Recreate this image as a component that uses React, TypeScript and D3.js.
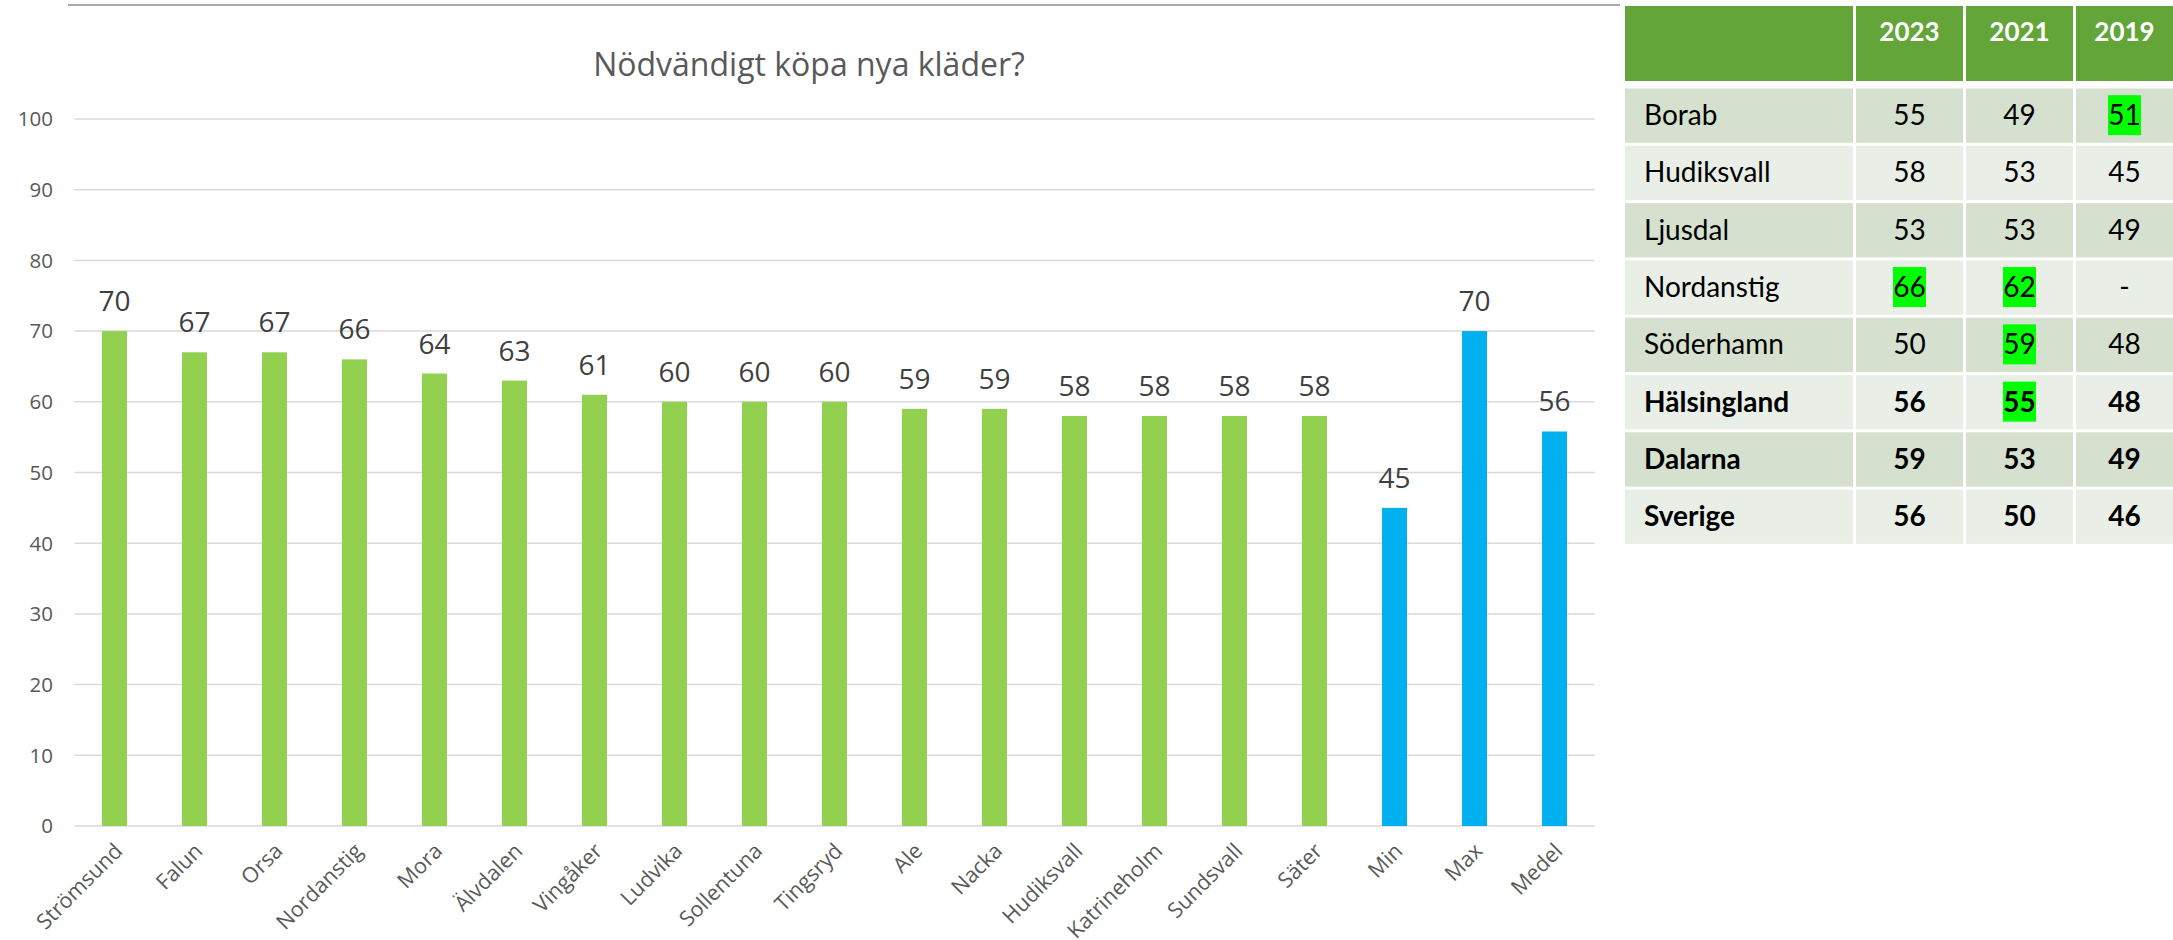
import React from "react";
import * as d3 from "d3";

const categories = ["Strömsund","Falun","Orsa","Nordanstig","Mora","Älvdalen","Vingåker","Ludvika","Sollentuna","Tingsryd","Ale","Nacka","Hudiksvall","Katrineholm","Sundsvall","Säter","Min","Max","Medel"];
const values = [70,67,67,66,64,63,61,60,60,60,59,59,58,58,58,58,45,70,55.8];
const summaryCats = ["Min","Max","Medel"];
const yTicks = [0,10,20,30,40,50,60,70,80,90,100];
const title = "Nödvändigt köpa nya kläder?";

const tableYears = ["2023","2021","2019"];
const tableRows = ["Borab","Hudiksvall","Ljusdal","Nordanstig","Söderhamn","Hälsingland","Dalarna","Sverige"];
const col2023 = ["55","58","53","66","50","56","59","56"];
const col2021 = ["49","53","53","62","59","55","53","50"];
const col2019 = ["51","45","49","-","48","48","49","46"];
const boldRows = ["Hälsingland","Dalarna","Sverige"];
const highlights = [[0,2],[3,0],[3,1],[4,1],[5,1]];

const W = 2173, H = 940;
const FONT = "'Open Sans', sans-serif";
const TFONT = "Lato, 'Open Sans', sans-serif";

export default function App() {
  const x = d3.scaleBand<string>().domain(categories).range([74.5, 1594.5]).paddingInner(0.6875).paddingOuter(0.34375);
  const y = d3.scaleLinear().domain([0, 100]).range([826, 119]);

  const tableCols = [col2023, col2021, col2019];
  const colEdges = [1625, 1853, 1963, 2073, 2173];
  const gap = 3;
  const rowTop = (i: number) => 88.5 + i * 57.3;
  const rowH = 54.3;

  return (
    <svg width={W} height={H} style={{ position: "absolute", left: 0, top: 0, display: "block", background: "#fff" }}>
      <line x1={68} x2={1620} y1={5} y2={5} stroke="#8c8c8c" strokeWidth={1.5} />
      <text x={809} y={76} textAnchor="middle" fontFamily={FONT} fontSize={32} fill="#595959">{title}</text>
      {yTicks.map(t => (
        <g key={t}>
          <line x1={74.5} x2={1594.5} y1={y(t)} y2={y(t)} stroke="#d9d9d9" strokeWidth={1.5} />
          <text x={53} y={y(t)} dy="0.36em" textAnchor="end" fontFamily={FONT} fontSize={20.5} fill="#595959">{t}</text>
        </g>
      ))}
      {categories.map((c, i) => {
        const bx = x(c)!;
        const bw = x.bandwidth();
        const v = values[i];
        const cx = bx + bw / 2;
        return (
          <g key={c}>
            <rect x={bx} y={y(v)} width={bw} height={y(0) - y(v)} fill={summaryCats.includes(c) ? "#00B0F0" : "#92D050"} />
            <text x={cx} y={y(v) - 20} textAnchor="middle" fontFamily={FONT} fontSize={28} fill="#404040">{Math.round(v)}</text>
            <text transform={`translate(${cx + 4},${847}) rotate(-45)`} dy="0.35em" textAnchor="end" fontFamily={FONT} fontSize={21.5} fill="#595959">{c}</text>
          </g>
        );
      })}
      {[0,1,2,3].map(ci => (
        <rect key={"h" + ci} x={colEdges[ci] + (ci > 0 ? gap : 0)} y={6} width={colEdges[ci + 1] - colEdges[ci] - (ci > 0 ? gap : 0)} height={75} fill="#63A538" />
      ))}
      {tableYears.map((yr, ci) => (
        <text key={yr} x={(colEdges[ci + 1] + gap + colEdges[ci + 2]) / 2} y={41} textAnchor="middle" fontFamily={TFONT} fontWeight={700} fontSize={26} fill="#ffffff">{yr}</text>
      ))}
      {tableRows.map((r, ri) => {
        const top = rowTop(ri);
        const fill = ri % 2 === 0 ? "#D5E1CE" : "#E9EFE7";
        const bold = boldRows.includes(r);
        const base = top + rowH / 2 + 9.5;
        return (
          <g key={r}>
            {[0,1,2,3].map(ci => (
              <rect key={ci} x={colEdges[ci] + (ci > 0 ? gap : 0)} y={top} width={colEdges[ci + 1] - colEdges[ci] - (ci > 0 ? gap : 0)} height={rowH} fill={fill} />
            ))}
            <text x={1644} y={base} fontFamily={TFONT} fontWeight={bold ? 700 : 400} fontSize={28} fill="#000">{r}</text>
            {tableCols.map((col, ci) => {
              const cx = (colEdges[ci + 1] + gap + colEdges[ci + 2]) / 2;
              const hl = highlights.some(h => h[0] === ri && h[1] === ci);
              return (
                <g key={ci}>
                  {hl && <rect x={cx - 16.5} y={base - 30} width={33} height={40} fill="#00FF00" />}
                  <text x={cx} y={base} textAnchor="middle" fontFamily={TFONT} fontWeight={bold ? 700 : 400} fontSize={28} fill="#000">{col[ri]}</text>
                </g>
              );
            })}
          </g>
        );
      })}
    </svg>
  );
}
